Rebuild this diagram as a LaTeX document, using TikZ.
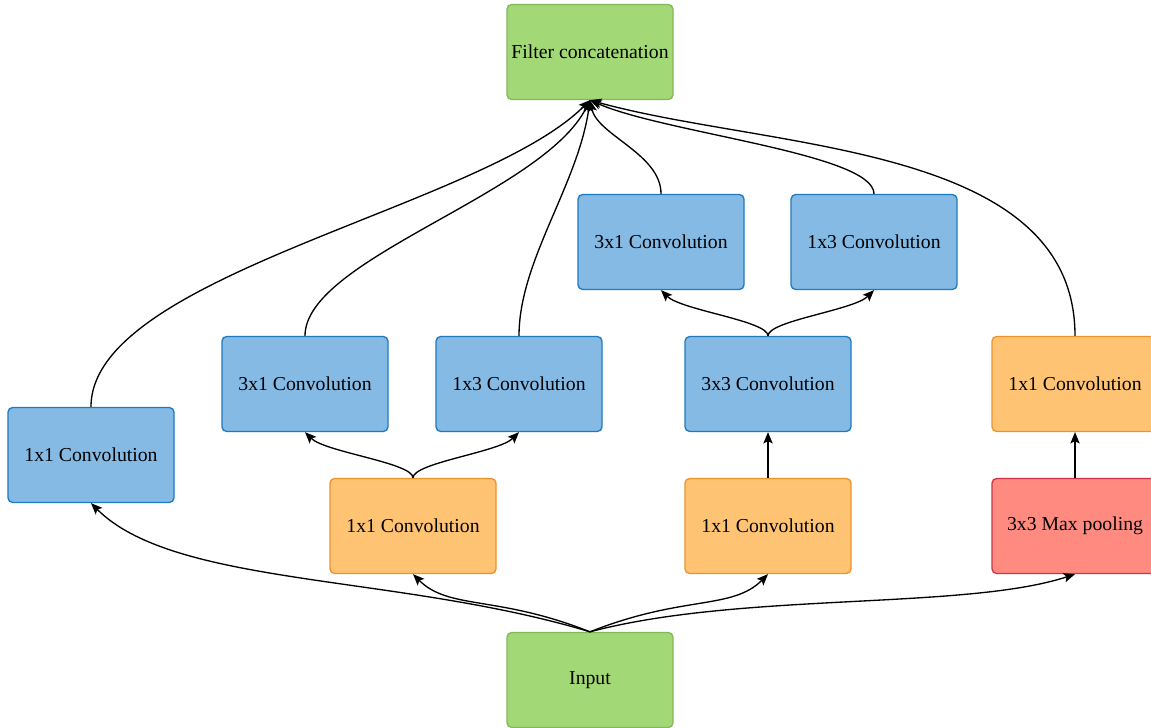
\documentclass[tikz,border=0pt]{standalone}
\usepackage{fontspec}
\setmainfont{Liberation Serif}
\usetikzlibrary{arrows.meta}

\definecolor{bluefill}{HTML}{84BAE4}
\definecolor{blueline}{HTML}{1F7AC0}
\definecolor{orangefill}{HTML}{FFC374}
\definecolor{orangeline}{HTML}{F0922A}
\definecolor{greenfill}{HTML}{A3D876}
\definecolor{greenline}{HTML}{82B85A}
\definecolor{redfill}{HTML}{FF8B80}
\definecolor{redline}{HTML}{D23246}

\begin{document}
\begin{tikzpicture}[x=0.75pt,y=-0.75pt,
  box/.style={draw, rounded corners=3.5pt, line width=1pt,
    minimum width=124.5pt, minimum height=71.25pt, inner sep=0pt,
    font=\fontsize{14.8}{18}\selectfont, text=black},
  conv/.style={box, fill=bluefill, draw=blueline},
  reduce/.style={box, fill=orangefill, draw=orangeline},
  io/.style={box, fill=greenfill, draw=greenline},
  pool/.style={box, fill=redfill, draw=redline},
  link/.style={line width=1pt, -{Stealth[length=8.5pt,width=7pt,inset=1.8pt]}}
]
\fill[white] (0,0) rectangle (1151,727);
\useasboundingbox (0,0) rectangle (1151,727);

% nodes
\node[io]     (concat) at (590,52)   {Filter concatenation};
\node[io]     (input)  at (590,680)  {Input};
\node[conv]   (c1)     at (91,455)   {1x1 Convolution};
\node[conv]   (b31)    at (305,384)  {3x1 Convolution};
\node[conv]   (b13)    at (519,384)  {1x3 Convolution};
\node[reduce] (o1)     at (413,526)  {1x1 Convolution};
\node[conv]   (t31)    at (661,242)  {3x1 Convolution};
\node[conv]   (t13)    at (874,242)  {1x3 Convolution};
\node[conv]   (c33)    at (768,384)  {3x3 Convolution};
\node[reduce] (o2)     at (768,526)  {1x1 Convolution};
\node[reduce] (o3)     at (1075,384) {1x1 Convolution};
\node[pool]   (mp)     at (1075,526) {3x3 Max pooling};

% input fan-out
\draw[link] (input.north) .. controls +(-192,-58) and +(84,84) .. (c1.south);
\draw[link] (input.north) .. controls +(-93,-37) and +(36,36) .. (o1.south);
\draw[link] (input.north) .. controls +(93,-37) and +(-36,36) .. (o2.south);
\draw[link] (input.north) .. controls +(150,-40) and +(-110,36) .. (mp.south);

% branch splits
\draw[link] (o1.north) .. controls +(0,-15) and +(20,20) .. (b31.south);
\draw[link] (o1.north) .. controls +(0,-15) and +(-20,20) .. (b13.south);
\draw[link] (c33.north) .. controls +(0,-15) and +(20,20) .. (t31.south);
\draw[link] (c33.north) .. controls +(0,-15) and +(-20,20) .. (t13.south);
\draw[link] (o2.north) -- (c33.south);
\draw[link] (mp.north) -- (o3.south);

% concatenation
\draw[link] (c1.north) .. controls +(0,-132) and +(-108,108) .. (concat.south);
\draw[link] (b31.north) .. controls +(0,-77) and +(-47,94) .. (concat.south);
\draw[link] (b13.north) .. controls +(0,-75) and +(-12,85) .. (concat.south);
\draw[link] (t31.north) .. controls +(0,-40) and +(7,35) .. (concat.south);
\draw[link] (t13.north) .. controls +(0,-40) and +(75,33) .. (concat.south);
\draw[link] (o3.north) .. controls +(0,-193) and +(180,50) .. (concat.south);
\end{tikzpicture}
\end{document}
